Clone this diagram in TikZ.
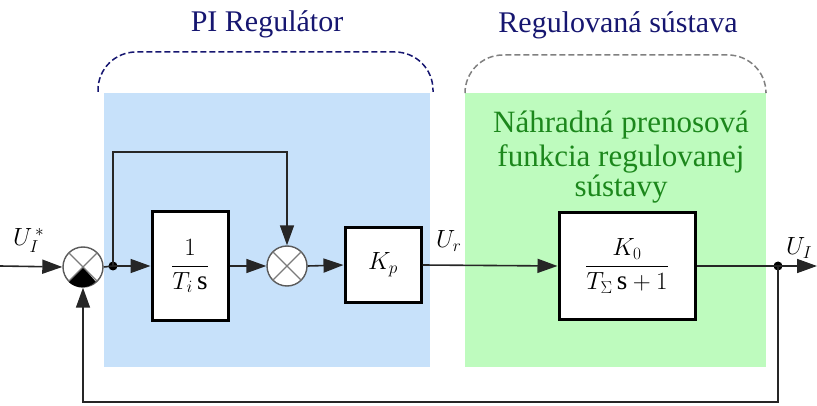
\documentclass[tikz,border=0pt]{standalone}
\usepackage{fontspec}
\setmainfont{Liberation Serif}
\usetikzlibrary{arrows.meta}
\definecolor{piblue}{RGB}{199,225,250}
\definecolor{plgreen}{RGB}{190,251,190}
\definecolor{navy}{RGB}{22,22,112}
\definecolor{dgreen}{RGB}{28,135,28}
\definecolor{sumgray}{RGB}{90,90,90}
\tikzset{
  blockbox/.style={draw=black, line width=3pt, fill=white, inner sep=0pt},
  sumnode/.style={circle, draw=sumgray, line width=1.4pt, fill=white, minimum size=40pt, inner sep=0pt},
  conn/.style={line width=1.6pt, draw=black!85},
  arr/.style={conn, -{Triangle[length=20pt,width=14pt]}},
  dotnode/.style={circle, fill=black, minimum size=9pt, inner sep=0pt},
  xline/.style={draw=sumgray!80, line width=1.2pt},
  title/.style={text=navy, font=\fontsize{30}{33}\selectfont},
  gtext/.style={text=dgreen, font=\fontsize{31}{33}\selectfont, anchor=base},
  lbl/.style={font=\fontsize{27}{30}\selectfont, anchor=base west, inner sep=0pt},
  bracket/.style={dashed, dash pattern=on 6pt off 3pt, line width=1.5pt, rounded corners=38pt}
}
\begin{document}
\begin{tikzpicture}[x=1pt,y=-1pt]
\useasboundingbox (0,0) rectangle (817,406);
% background regions
\fill[piblue] (104,93) rectangle (430,367);
\fill[plgreen] (465,93) rectangle (766,367);
% brackets
\draw[bracket, draw=navy] (98,92) -- (98,52) -- (433,52) -- (433,92);
\draw[bracket, draw=gray] (465,92) -- (465,55) -- (766,55) -- (766,92);
% titles
\node[title, anchor=base] (t1) at (267,32) {PI Regulátor};
\node[title, anchor=base] (t2) at (618,33) {Regulovaná sústava};
\node[gtext] (g1) at (621,133) {Náhradná prenosová};
\node[gtext] (g2) at (621,167) {funkcia regulovanej};
\node[gtext] (g3) at (621,197) {sústavy};
% blocks
\node[sumnode] (s1) at (83,267) {};
\fill[black] (s1.center) -- (s1.-135) arc[start angle=-135, end angle=-45, radius=19.3pt] -- cycle;
\draw[xline] (s1.45) -- (s1.-135) (s1.135) -- (s1.-45);
\node[sumnode] (s2) at (287,266) {};
\draw[xline] (s2.45) -- (s2.-135) (s2.135) -- (s2.-45);
\node[blockbox, minimum width=76pt, minimum height=108pt, font=\fontsize{27}{30}\selectfont] (b1) at (190,266) {$\displaystyle\frac{1}{T_i\,\mathrm{s}}$};
\node[blockbox, minimum width=76pt, minimum height=75pt, font=\fontsize{27}{30}\selectfont] (kp) at (383,265) {$K_p$};
\node[blockbox, minimum width=136pt, minimum height=107pt, font=\fontsize{27}{30}\selectfont] (pl) at (627,266) {$\displaystyle\frac{K_0}{T_\Sigma\,\mathrm{s}+1}$};
% coordinates and dots
\coordinate (in) at (0,266);
\node[dotnode] (d1) at (113,266) {};
\node[dotnode] (d2) at (778,266) {};
\coordinate (top) at (113,152);
\coordinate (out) at (817,266);
\coordinate (fb) at (778,402);
% connectors
\draw[arr] (in) -- (s1.west);
\draw[conn] (s1.east) -- (d1.center);
\draw[arr] (d1.center) -- (b1.west);
\draw[arr] (d1.center) -- (top) -| (s2.north);
\draw[arr] (b1.east) -- (s2.west);
\draw[arr] (s2.east) -- (kp.west);
\draw[arr] (kp.east) -- (pl.west);
\draw[conn] (pl.east) -- (d2.center);
\draw[arr] (d2.center) -- (out);
\draw[arr] (d2.center) -- (fb) -| (s1.south);
% labels
\node[lbl] (lin) at (13,246) {$U_I^{\,*}$};
\node[lbl] (lur) at (436,248) {$U_r$};
\node[lbl] (lout) at (786,255) {$U_I$};
\end{tikzpicture}
\end{document}
